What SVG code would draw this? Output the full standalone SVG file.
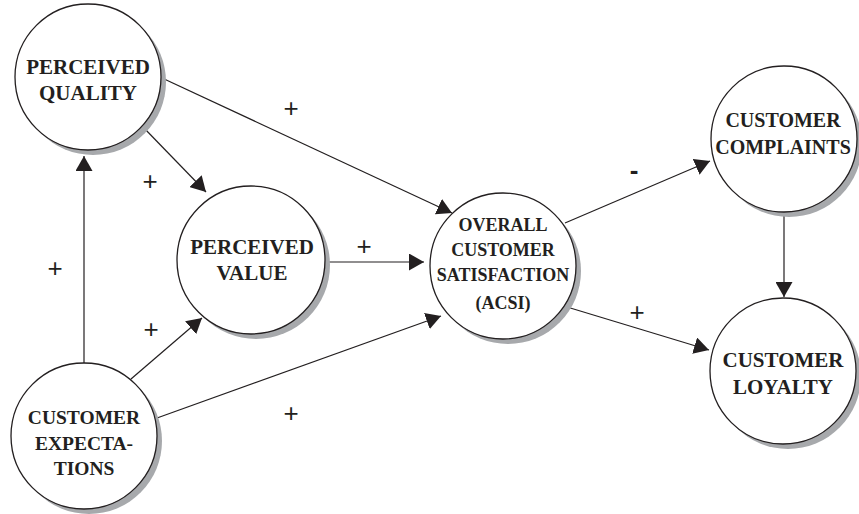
<svg xmlns="http://www.w3.org/2000/svg" width="859" height="514" viewBox="0 0 859 514">
<style>
.shadow{fill:#a7a9ac;stroke:none}
.node{fill:#ffffff;stroke:#231f20;stroke-width:1.3}
.lbl{font-family:"Liberation Serif","Times New Roman",serif;font-weight:bold;fill:#231f20;text-anchor:middle}
.edge{stroke:#231f20;stroke-width:1.2;fill:none;marker-end:url(#arrow)}
.sign{font-family:"Liberation Sans",Arial,sans-serif;font-size:26px;fill:#231f20;text-anchor:middle}
</style>
<defs>
<marker id="arrow" markerUnits="userSpaceOnUse" markerWidth="16" markerHeight="17" refX="15" refY="8.5" orient="auto">
<path d="M0,0 L15,8.5 L0,17 Z" fill="#231f20"/>
</marker>
</defs>
<rect width="859" height="514" fill="#ffffff"/>
<g id="connectors">
<line class="edge" x1="162" y1="78" x2="452" y2="213"/>
<line class="edge" x1="143" y1="127" x2="206" y2="192"/>
<line class="edge" x1="326" y1="262" x2="424" y2="262"/>
<line class="edge" x1="131" y1="379" x2="202" y2="318"/>
<line class="edge" x1="157" y1="418" x2="441" y2="316"/>
<line class="edge" x1="84" y1="363" x2="84" y2="156"/>
<line class="edge" x1="565" y1="223" x2="710" y2="161"/>
<line class="edge" x1="567" y1="307" x2="709" y2="350"/>
<line class="edge" x1="784" y1="212" x2="784" y2="297"/>
<text class="sign" x="291" y="117">+</text>
<text class="sign" x="150" y="190">+</text>
<text class="sign" x="55" y="277">+</text>
<text class="sign" x="151" y="338">+</text>
<text class="sign" x="364" y="255">+</text>
<text class="sign" x="291" y="422">+</text>
<text class="sign" x="637" y="321">+</text>
<text class="sign" x="634" y="179" style="font-weight:bold">-</text>
</g>
<g id="perceived-quality">
<circle class="shadow" cx="93" cy="82" r="73"/>
<circle class="node" cx="88" cy="77" r="73"/>
<text class="lbl" x="88" y="74" font-size="21">PERCEIVED</text>
<text class="lbl" x="88" y="100" font-size="21">QUALITY</text>
</g>
<g id="perceived-value">
<circle class="shadow" cx="256" cy="265" r="74"/>
<circle class="node" cx="251" cy="260" r="74"/>
<text class="lbl" x="252" y="254" font-size="21">PERCEIVED</text>
<text class="lbl" x="252" y="280" font-size="21">VALUE</text>
</g>
<g id="acsi">
<circle class="shadow" cx="508" cy="271" r="73"/>
<circle class="node" cx="503" cy="266" r="73"/>
<text class="lbl" x="503" y="231" font-size="18">OVERALL</text>
<text class="lbl" x="503" y="256" font-size="18">CUSTOMER</text>
<text class="lbl" x="503" y="281" font-size="18">SATISFACTION</text>
<text class="lbl" x="503" y="309" font-size="18">(ACSI)</text>
</g>
<g id="customer-complaints">
<circle class="shadow" cx="789" cy="144" r="73"/>
<circle class="node" cx="784" cy="139" r="73"/>
<text class="lbl" x="783" y="127" font-size="20">CUSTOMER</text>
<text class="lbl" x="783" y="154" font-size="20">COMPLAINTS</text>
</g>
<g id="customer-loyalty">
<circle class="shadow" cx="788" cy="376" r="73"/>
<circle class="node" cx="783" cy="371" r="73"/>
<text class="lbl" x="783" y="367" font-size="21">CUSTOMER</text>
<text class="lbl" x="783" y="394" font-size="21">LOYALTY</text>
</g>
<g id="customer-expectations">
<circle class="shadow" cx="89" cy="441" r="73"/>
<circle class="node" cx="84" cy="436" r="73"/>
<text class="lbl" x="84" y="424" font-size="19.5">CUSTOMER</text>
<text class="lbl" x="84" y="450" font-size="19.5">EXPECTA-</text>
<text class="lbl" x="84" y="475" font-size="19.5">TIONS</text>
</g>
</svg>
